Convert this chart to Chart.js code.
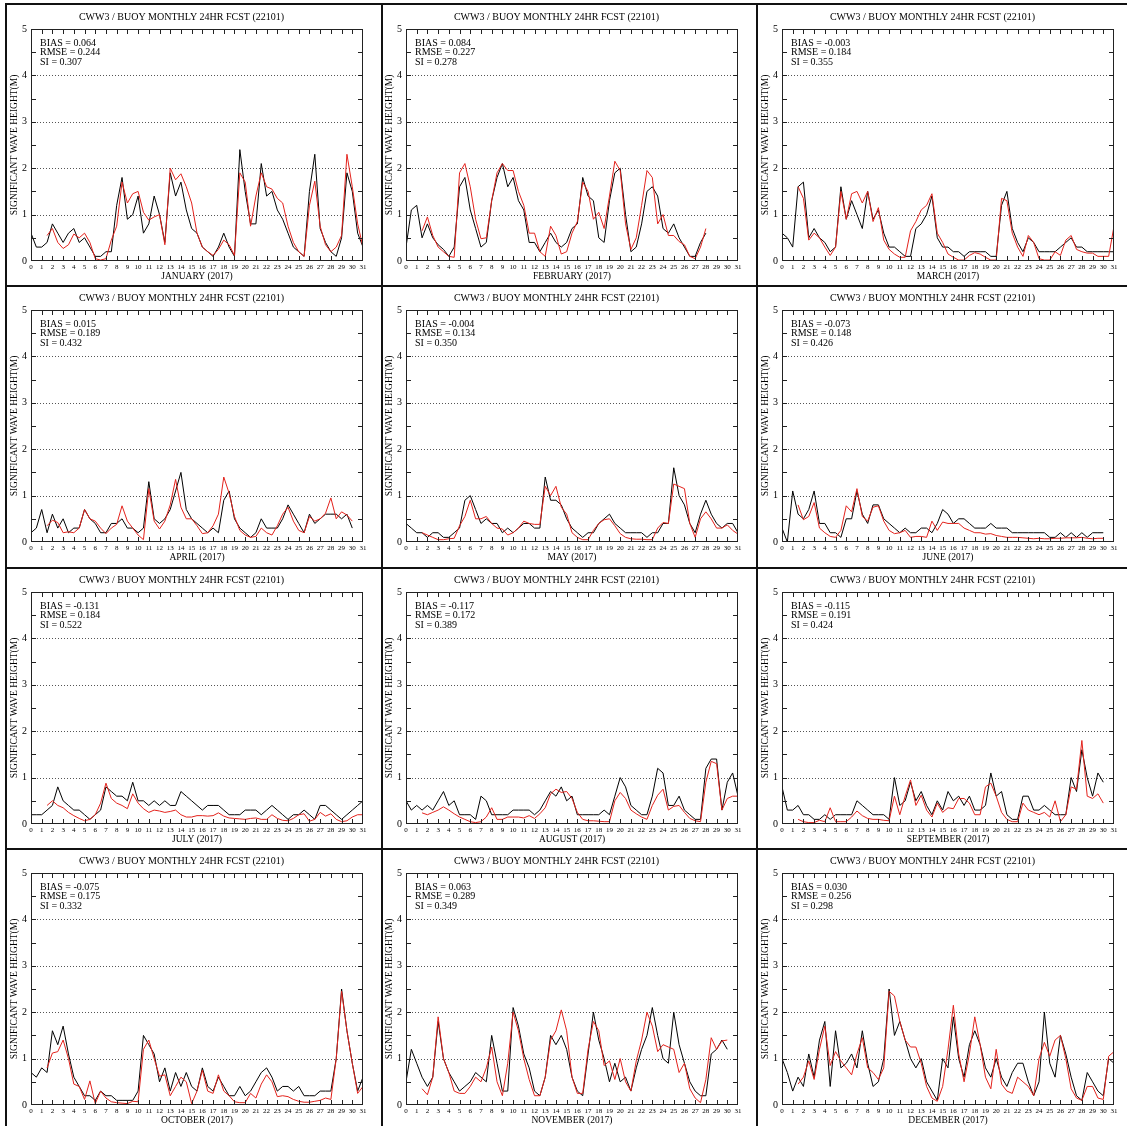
<!DOCTYPE html>
<html>
<head>
<meta charset="utf-8">
<title>CWW3 / Buoy 22101 - 2017</title>
<script src="https://cdn.jsdelivr.net/npm/chart.js@4.4.1/dist/chart.umd.min.js"></script>
<style>
  html, body { margin: 0; padding: 0; background: #fff; overflow: hidden; }
  #page { position: relative; width: 1127px; height: 1126px; }
  .panel { position: absolute; }
  .rule { position: absolute; background: #111; z-index: 2; }
</style>
</head>
<body>
<div id="page"></div>
<script>
// Månader och statistik per panel
const MONTHS = ["JANUARY", "FEBRUARY", "MARCH", "APRIL", "MAY", "JUNE",
  "JULY", "AUGUST", "SEPTEMBER", "OCTOBER", "NOVEMBER", "DECEMBER"];
const BIAS = ["0.064", "0.084", "-0.003", "0.015", "-0.004", "-0.073",
  "-0.131", "-0.117", "-0.115", "-0.075", "0.063", "0.030"];
const RMSE = ["0.244", "0.227", "0.184", "0.189", "0.134", "0.148",
  "0.184", "0.172", "0.191", "0.175", "0.289", "0.256"];
const SI = ["0.307", "0.278", "0.355", "0.432", "0.350", "0.426",
  "0.522", "0.389", "0.424", "0.332", "0.349", "0.298"];

// Boj: ett värde per halvdag från dag 0. Modell: ett värde per halvdag från dag 1.5.
const BUOY_STEP = 0.5;
const MODEL_START = 1.5;
const MODEL_STEP = 0.5;

const janBuoy = [0.6,0.3,0.3,0.4,0.8,0.6,0.4,0.6,0.7,0.4, 0.5,0.3,0.1,0.1,0.2,0.2,1.2,1.8,0.9,1.0,
  1.4,0.6,0.8,1.4,1.0,0.4,1.9,1.4,1.7,1.1, 0.7,0.6,0.3,0.2,0.1,0.3,0.6,0.3,0.1,2.4,
  1.5,0.8,0.8,2.1,1.4,1.5,1.1,0.9,0.6,0.3, 0.2,0.1,1.5,2.3,0.7,0.4,0.2,0.1,0.5,1.9, 1.5,0.6,0.3];
const janModel = [0.55,0.7,0.4,0.27,0.35,0.58,0.5,0.6,0.4,0.05, 0.02,0.05,0.45,0.75,1.7,1.25,1.45,1.5,1.05,0.88,
  0.95,1.0,0.35,2.0,1.75,1.88,1.6,1.25,0.6,0.3, 0.2,0.12,0.25,0.45,0.35,0.12,1.9,1.7,0.75,1.4,
  1.9,1.6,1.55,1.35,1.25,0.75,0.4,0.2,0.1,1.2, 1.72,0.75,0.35,0.2,0.3,0.55,2.3,1.6,0.8,0.3];

const febBuoy = [0.3,1.1,1.2,0.5,0.8,0.5,0.35,0.25,0.1,0.3, 1.6,1.8,1.1,0.7,0.3,0.4,1.3,1.8,2.1,1.6,
  1.8,1.3,1.1,0.4,0.4,0.2,0.4,0.6,0.4,0.3, 0.4,0.7,0.8,1.8,1.4,1.3,0.5,0.4,1.3,1.9,
  2.0,1.0,0.2,0.3,0.8,1.5,1.6,1.4,0.7,0.6, 0.8,0.5,0.3,0.1,0.1,0.4,0.6];
const febModel = [0.65,0.95,0.55,0.3,0.2,0.1,0.08,1.9,2.1,1.6, 0.9,0.48,0.5,1.3,1.9,2.1,1.95,1.95,1.5,1.2,
  0.6,0.6,0.2,0.1,0.75,0.55,0.15,0.2,0.6,0.85, 1.7,1.5,0.9,1.05,0.7,1.4,2.15,1.95,0.8,0.25,
  0.5,1.2,1.95,1.8,0.8,1.0,0.55,0.55,0.42,0.35, 0.1,0.05,0.3,0.7];

const marBuoy = [0.6,0.5,0.3,1.6,1.7,0.5,0.7,0.5,0.4,0.2, 0.3,1.6,0.9,1.3,1.0,0.7,1.5,0.9,1.1,0.6,
  0.3,0.3,0.2,0.1,0.1,0.7,0.8,1.0,1.4,0.5, 0.3,0.3,0.2,0.2,0.1,0.2,0.2,0.2,0.2,0.1,
  0.1,1.2,1.5,0.7,0.4,0.2,0.5,0.4,0.2,0.2, 0.2,0.2,0.3,0.4,0.5,0.3,0.3,0.2,0.2,0.2, 0.2,0.2,0.2];
const marModel = [1.6,1.35,0.45,0.6,0.5,0.3,0.12,0.3,1.5,0.9, 1.45,1.5,1.25,1.5,0.85,1.15,0.45,0.25,0.15,0.08,
  0.08,0.65,0.85,1.1,1.2,1.45,0.6,0.4,0.15,0.08, 0.02,0.02,0.12,0.18,0.15,0.08,0.02,0.02,1.35,1.3,
  0.6,0.3,0.1,0.55,0.4,0.05,0.02,0.02,0.2,0.12, 0.45,0.55,0.25,0.2,0.17,0.17,0.1,0.1,0.1,0.75];

const aprBuoy = [0.2,0.3,0.7,0.2,0.6,0.3,0.5,0.2,0.3,0.3, 0.7,0.5,0.4,0.2,0.2,0.4,0.4,0.5,0.3,0.3,
  0.2,0.3,1.3,0.5,0.4,0.5,0.7,1.1,1.5,0.7, 0.5,0.4,0.3,0.2,0.3,0.2,0.9,1.1,0.5,0.3,
  0.2,0.1,0.2,0.5,0.3,0.3,0.3,0.5,0.8,0.6, 0.4,0.2,0.6,0.4,0.5,0.6,0.6,0.6,0.5,0.6, 0.3];
const aprModel = [0.35,0.47,0.42,0.2,0.22,0.2,0.3,0.7,0.5,0.45, 0.3,0.18,0.3,0.38,0.78,0.45,0.3,0.15,0.05,1.15,
  0.45,0.28,0.45,0.8,1.35,0.75,0.5,0.5,0.35,0.18, 0.2,0.35,0.6,1.4,1.05,0.55,0.25,0.15,0.1,0.12,
  0.3,0.2,0.15,0.35,0.6,0.75,0.45,0.25,0.2,0.55, 0.45,0.5,0.62,0.95,0.5,0.65,0.58,0.45];

const mayBuoy = [0.4,0.3,0.2,0.2,0.1,0.2,0.2,0.1,0.1,0.2, 0.3,0.9,1.0,0.7,0.4,0.5,0.4,0.4,0.2,0.3,
  0.2,0.3,0.4,0.4,0.3,0.3,1.4,0.9,0.9,0.8, 0.5,0.3,0.2,0.1,0.2,0.2,0.4,0.5,0.6,0.4,
  0.3,0.2,0.2,0.2,0.2,0.1,0.2,0.2,0.4,0.4, 1.6,1.0,0.8,0.4,0.2,0.6,0.9,0.6,0.4,0.3, 0.4,0.4,0.2];
const mayModel = [0.2,0.15,0.1,0.05,0.05,0.07,0.08,0.35,0.55,0.9, 0.5,0.5,0.55,0.4,0.3,0.28,0.15,0.2,0.3,0.45,
  0.4,0.38,0.38,1.2,1.0,1.2,0.75,0.6,0.2,0.1, 0.05,0.05,0.25,0.4,0.48,0.5,0.35,0.18,0.1,0.07,
  0.06,0.06,0.05,0.05,0.3,0.42,0.4,1.25,1.2,1.15, 0.4,0.1,0.5,0.65,0.5,0.3,0.3,0.37,0.25,0.17];

const junBuoy = [0.3,0.0,1.1,0.6,0.5,0.7,1.1,0.4,0.4,0.2, 0.2,0.1,0.5,0.5,1.1,0.6,0.4,0.8,0.8,0.5,
  0.4,0.3,0.2,0.3,0.2,0.2,0.3,0.3,0.2,0.4, 0.7,0.6,0.4,0.5,0.5,0.4,0.3,0.3,0.3,0.4,
  0.3,0.3,0.3,0.2,0.2,0.2,0.2,0.2,0.2,0.2, 0.1,0.1,0.2,0.1,0.2,0.1,0.2,0.1,0.2,0.2, 0.2];
const junModel = [0.8,0.48,0.55,0.85,0.3,0.2,0.12,0.1,0.25,0.78, 0.65,1.15,0.55,0.45,0.75,0.78,0.45,0.25,0.18,0.2,
  0.25,0.1,0.12,0.12,0.1,0.45,0.25,0.43,0.4,0.4, 0.4,0.3,0.25,0.2,0.2,0.17,0.18,0.14,0.12,0.1,
  0.1,0.1,0.09,0.08,0.07,0.08,0.07,0.07,0.08,0.08, 0.09,0.09,0.09,0.1,0.08,0.07,0.08,0.08];

const julBuoy = [0.2,0.2,0.2,0.3,0.4,0.8,0.5,0.4,0.3,0.3, 0.2,0.1,0.2,0.3,0.8,0.7,0.6,0.6,0.5,0.9,
  0.5,0.5,0.4,0.5,0.4,0.5,0.4,0.4,0.7,0.6, 0.5,0.4,0.3,0.4,0.4,0.4,0.3,0.2,0.2,0.2,
  0.3,0.3,0.3,0.2,0.3,0.4,0.3,0.2,0.1,0.2, 0.2,0.3,0.2,0.1,0.4,0.4,0.3,0.2,0.1,0.2, 0.3,0.4,0.5];
const julModel = [0.4,0.5,0.4,0.35,0.25,0.18,0.12,0.07,0.1,0.2, 0.45,0.88,0.55,0.45,0.4,0.33,0.65,0.45,0.33,0.25,
  0.3,0.28,0.25,0.27,0.3,0.2,0.15,0.15,0.18,0.18, 0.17,0.18,0.24,0.17,0.13,0.12,0.11,0.1,0.12,0.13,
  0.1,0.1,0.2,0.12,0.08,0.07,0.12,0.2,0.22,0.06, 0.1,0.25,0.17,0.22,0.1,0.05,0.07,0.15,0.2,0.2];

const augBuoy = [0.5,0.3,0.4,0.3,0.4,0.3,0.5,0.7,0.4,0.5, 0.2,0.2,0.2,0.1,0.6,0.5,0.2,0.2,0.2,0.2,
  0.3,0.3,0.3,0.3,0.2,0.3,0.5,0.7,0.6,0.8, 0.5,0.6,0.2,0.2,0.2,0.2,0.2,0.3,0.2,0.6,
  1.0,0.8,0.4,0.3,0.2,0.2,0.6,1.2,1.1,0.4, 0.4,0.6,0.3,0.2,0.1,0.1,1.2,1.4,1.4,0.3, 0.9,1.1,0.6];
const augModel = [0.24,0.2,0.25,0.3,0.37,0.3,0.22,0.15,0.1,0.05, 0.03,0.05,0.15,0.35,0.1,0.1,0.15,0.15,0.15,0.13,
  0.18,0.12,0.22,0.35,0.65,0.75,0.68,0.7,0.55,0.25, 0.1,0.07,0.07,0.06,0.05,0.05,0.5,0.68,0.55,0.3,
  0.22,0.15,0.1,0.4,0.62,0.75,0.3,0.38,0.4,0.25, 0.12,0.07,0.05,0.9,1.35,1.3,0.3,0.55,0.6,0.6];

const sepBuoy = [0.8,0.3,0.3,0.4,0.2,0.2,0.1,0.1,0.2,0.1, 0.2,0.2,0.2,0.2,0.5,0.4,0.3,0.2,0.2,0.2,
  0.1,1.0,0.4,0.5,0.9,0.5,0.7,0.4,0.2,0.5, 0.3,0.7,0.5,0.6,0.4,0.6,0.3,0.3,0.4,1.1,
  0.6,0.7,0.2,0.1,0.1,0.6,0.6,0.3,0.3,0.4, 0.3,0.2,0.2,0.2,1.0,0.7,1.6,1.0,0.6,1.1, 0.9];
const sepModel = [0.1,0.05,0.03,0.03,0.08,0.05,0.35,0.05,0.05,0.05, 0.15,0.28,0.18,0.12,0.1,0.1,0.08,0.07,0.6,0.2,
  0.6,0.95,0.4,0.62,0.3,0.15,0.45,0.25,0.35,0.33, 0.55,0.55,0.45,0.2,0.2,0.8,0.88,0.6,0.25,0.1,
  0.05,0.05,0.45,0.3,0.25,0.2,0.25,0.15,0.5,0.05, 0.2,0.8,0.75,1.8,0.6,0.55,0.65,0.45];

const octBuoy = [0.7,0.6,0.8,0.7,1.6,1.3,1.7,1.1,0.6,0.4, 0.2,0.2,0.1,0.3,0.2,0.2,0.1,0.1,0.1,0.1,
  0.3,1.5,1.3,1.1,0.5,0.8,0.3,0.7,0.4,0.7, 0.4,0.3,0.8,0.4,0.3,0.6,0.4,0.2,0.2,0.4,
  0.2,0.3,0.5,0.7,0.8,0.6,0.3,0.4,0.4,0.3, 0.4,0.2,0.2,0.2,0.3,0.3,0.3,1.0,2.5,1.6, 0.9,0.3,0.6];
const octModel = [0.8,1.12,1.15,1.4,1.0,0.45,0.4,0.12,0.52,0.03, 0.3,0.15,0.07,0.05,0.04,0.03,0.08,0.07,1.2,1.4,
  1.0,0.62,0.65,0.2,0.4,0.6,0.5,0.03,0.3,0.75, 0.3,0.25,0.65,0.3,0.2,0.07,0.05,0.05,0.25,0.15,
  0.45,0.65,0.5,0.18,0.2,0.18,0.12,0.08,0.06,0.06, 0.08,0.1,0.15,0.12,1.0,2.45,1.6,0.9,0.25,0.4];

const novBuoy = [0.5,1.2,0.9,0.6,0.4,0.6,1.8,1.0,0.7,0.5, 0.3,0.4,0.5,0.7,0.6,0.5,1.5,0.9,0.3,0.3,
  2.1,1.7,1.1,0.8,0.3,0.2,0.6,1.5,1.3,1.5, 1.2,0.6,0.3,0.2,1.1,2.0,1.4,1.0,0.5,0.9,
  0.5,0.6,0.3,0.8,1.2,1.5,2.1,1.5,1.0,0.9, 2.0,1.3,0.9,0.5,0.3,0.2,0.2,1.1,1.2,1.4, 1.2];
const novModel = [0.35,0.22,0.6,1.9,1.0,0.7,0.3,0.25,0.25,0.4, 0.6,0.5,0.8,1.25,0.5,0.2,0.9,2.0,1.6,1.0,
  0.55,0.2,0.2,0.6,1.4,1.6,2.05,1.6,0.6,0.25, 0.25,1.2,1.8,1.6,0.85,0.95,0.55,1.0,0.5,0.3,
  0.95,1.4,2.0,1.7,1.15,1.3,1.25,1.2,0.7,0.9, 0.35,0.15,0.05,0.55,1.45,1.2,1.38,1.4];

const decBuoy = [1.0,0.7,0.3,0.6,0.4,1.1,0.6,1.4,1.8,0.4, 1.6,0.8,0.9,1.1,0.8,1.6,0.9,0.4,0.5,1.0,
  2.5,1.5,1.8,1.4,1.0,0.8,1.0,0.5,0.3,0.1, 1.0,0.8,1.9,1.0,0.6,1.3,1.6,1.3,0.8,0.6,
  1.0,0.6,0.4,0.7,0.9,0.9,0.5,0.2,0.5,2.0, 0.9,0.6,1.5,1.1,0.6,0.2,0.1,0.7,0.5,0.3, 0.2,1.0,0.9];
const decModel = [0.45,0.6,0.95,0.55,1.2,1.7,0.85,1.15,0.95,0.8, 0.65,1.1,1.45,0.8,0.7,0.55,0.8,2.45,2.35,1.8,
  1.4,1.25,1.25,0.9,0.4,0.15,0.08,0.4,1.2,2.15, 1.1,0.5,1.1,1.9,1.3,0.6,0.35,1.2,0.45,0.3,
  0.25,0.6,0.5,0.4,0.2,1.0,1.35,1.05,1.4,1.5, 1.0,0.35,0.15,0.1,0.4,0.4,0.15,0.12,1.05,1.15];

const BUOY = [janBuoy, febBuoy, marBuoy, aprBuoy, mayBuoy, junBuoy,
  julBuoy, augBuoy, sepBuoy, octBuoy, novBuoy, decBuoy];
const MODEL = [janModel, febModel, marModel, aprModel, mayModel, junModel,
  julModel, augModel, sepModel, octModel, novModel, decModel];

// Layout (px)
const COL_LEFT = [0, 375, 751];
const ROW_TOP = [0, 281, 563, 844];
const CANVAS_W = 394;
const CANVAS_H = 283;
const SERIF = "'Liberation Serif', 'Times New Roman', serif";

/**
 * Ram, inåtriktade tickmarkeringar, prickade stödlinjer och statistiktext.
 */
const framePlugin = {
  id: "frame",
  beforeDatasetsDraw(chart) {
    const { ctx, chartArea: a, scales: { y } } = chart;
    ctx.save();
    ctx.strokeStyle = "#555";
    ctx.lineWidth = 1;
    ctx.setLineDash([1, 2]);
    for (let v = 1; v < 5; v++) {
      const py = Math.round(y.getPixelForValue(v)) + 0.5;
      ctx.beginPath();
      ctx.moveTo(a.left, py);
      ctx.lineTo(a.right, py);
      ctx.stroke();
    }
    ctx.restore();
  },
  afterDatasetsDraw(chart, args, opts) {
    const { ctx, chartArea: a, scales: { x, y } } = chart;
    ctx.save();
    ctx.strokeStyle = "#222";
    ctx.lineWidth = 1;
    ctx.strokeRect(Math.round(a.left) + 0.5, Math.round(a.top) + 0.5,
      Math.round(a.width) - 1, Math.round(a.height) - 1);
    ctx.beginPath();
    for (let d = 1; d < 31; d++) {
      const px = Math.round(x.getPixelForValue(d)) + 0.5;
      ctx.moveTo(px, a.top); ctx.lineTo(px, a.top + 5);
      ctx.moveTo(px, a.bottom); ctx.lineTo(px, a.bottom - 5);
    }
    for (let v = 0.5; v < 5; v += 0.5) {
      const py = Math.round(y.getPixelForValue(v)) + 0.5;
      ctx.moveTo(a.left, py); ctx.lineTo(a.left + 5, py);
      ctx.moveTo(a.right, py); ctx.lineTo(a.right - 5, py);
    }
    ctx.stroke();

    ctx.fillStyle = "#000";
    ctx.font = "10px " + SERIF;
    ctx.textBaseline = "middle";
    ctx.textAlign = "left";
    opts.lines.forEach((t, k) => ctx.fillText(t, a.left + 9, a.top + 14 + k * 9.5));
    ctx.restore();
  },
};

const page = document.getElementById("page");

// Ramlinjer mellan panelerna
[
  [5, 3, 1122, 2], [5, 285, 1122, 2], [5, 567, 1122, 2], [5, 848, 1122, 2],
  [5, 3, 2, 1123], [381, 3, 2, 1123], [756, 3, 2, 1123],
].forEach(([l, t, w, h]) => {
  const r = document.createElement("div");
  r.className = "rule";
  Object.assign(r.style, { left: l + "px", top: t + "px", width: w + "px", height: h + "px" });
  page.appendChild(r);
});

function points(values, start, step) {
  return values.map((v, i) => ({ x: start + i * step, y: v }));
}

MONTHS.forEach((month, i) => {
  const holder = document.createElement("div");
  holder.className = "panel";
  holder.style.left = COL_LEFT[i % 3] + "px";
  holder.style.top = ROW_TOP[Math.floor(i / 3)] + "px";
  const canvas = document.createElement("canvas");
  canvas.width = CANVAS_W;
  canvas.height = CANVAS_H;
  holder.appendChild(canvas);
  page.appendChild(holder);

  new Chart(canvas, {
    type: "line",
    data: {
      datasets: [
        { label: "CWW3", data: points(MODEL[i], MODEL_START, MODEL_STEP),
          borderColor: "#e3221c", borderWidth: 1, pointRadius: 0, tension: 0 },
        { label: "BUOY", data: points(BUOY[i], 0, BUOY_STEP),
          borderColor: "#000", borderWidth: 1, pointRadius: 0, tension: 0 },
      ],
    },
    options: {
      responsive: false,
      animation: false,
      events: [],
      layout: { padding: { left: 0, right: 31, top: 0, bottom: 0 } },
      plugins: {
        legend: { display: false },
        tooltip: { enabled: false },
        title: {
          display: true,
          text: "CWW3 / BUOY MONTHLY 24HR FCST (22101)",
          color: "#000",
          font: { family: SERIF, size: 10, weight: "normal" },
          padding: { top: 11, bottom: 6 },
        },
        frame: { lines: ["BIAS = " + BIAS[i], "RMSE = " + RMSE[i], "SI = " + SI[i]] },
      },
      scales: {
        x: {
          type: "linear", min: 0, max: 31,
          grid: { display: false, drawTicks: false },
          border: { display: false },
          ticks: { stepSize: 1, autoSkip: false, maxRotation: 0, padding: 2,
            color: "#000", font: { family: SERIF, size: 7 } },
          title: { display: true, text: month + " (2017)", color: "#000",
            font: { family: SERIF, size: 9.5 }, padding: { top: 0, bottom: 1 } },
          afterFit: (s) => { s.height = 22; },
        },
        y: {
          min: 0, max: 5,
          grid: { display: false, drawTicks: false },
          border: { display: false },
          ticks: { stepSize: 1, padding: 4, color: "#000", font: { family: SERIF, size: 10 } },
          title: { display: true, text: "SIGNIFICANT WAVE HEIGHT(M)", color: "#000",
            font: { family: SERIF, size: 9.5 }, padding: { top: 9, bottom: 0 } },
          afterFit: (s) => { s.width = 31; },
        },
      },
    },
    plugins: [framePlugin],
  });
});
</script>
</body>
</html>
